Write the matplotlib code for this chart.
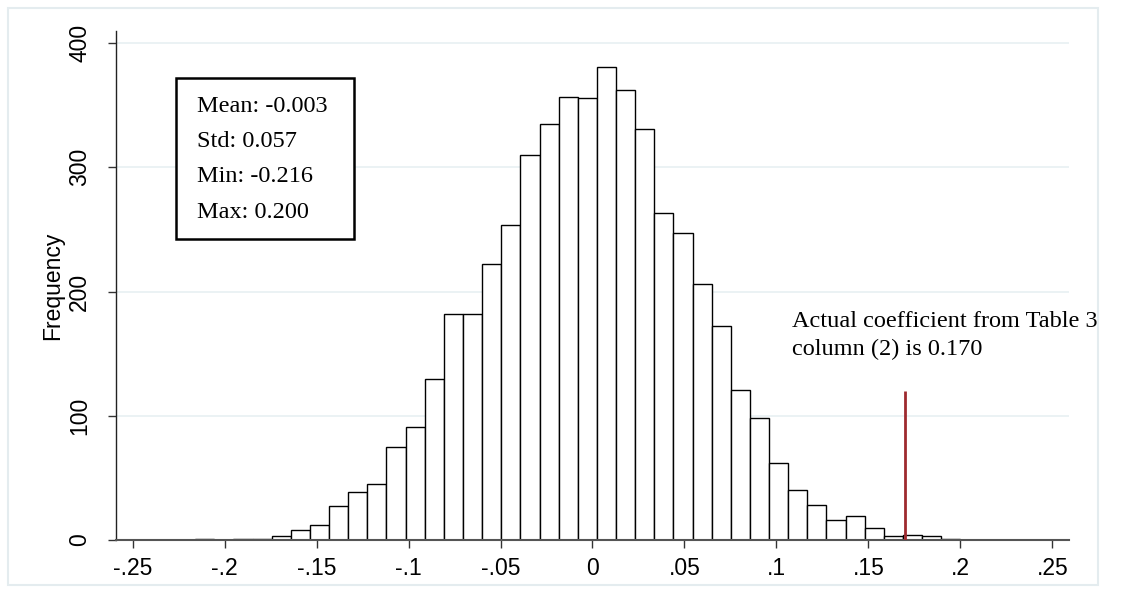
import numpy as np
import matplotlib.pyplot as plt
from matplotlib.patches import Rectangle

# histogram of placebo coefficients (40 bins between min and max)
bin_min = -0.216
bin_max = 0.200
counts = [1, 0, 1, 1, 3, 8, 12, 27, 39, 45,
          75, 91, 130, 182, 182, 222, 254, 310, 335, 357,
          356, 381, 362, 331, 263, 247, 206, 172, 121, 98,
          62, 40, 28, 16, 19, 10, 3, 4, 3, 1]
actual_coef = 0.170
actual_line_top = 120
stats_lines = ["Mean: -0.003", "Std: 0.057", "Min: -0.216", "Max: 0.200"]
note_lines = ["Actual coefficient from Table 3", "column (2) is 0.170"]
xticks = [-0.25, -0.2, -0.15, -0.1, -0.05, 0, 0.05, 0.1, 0.15, 0.2, 0.25]
xticklabels = ["-.25", "-.2", "-.15", "-.1", "-.05", "0", ".05", ".1", ".15", ".2", ".25"]
yticks = [0, 100, 200, 300, 400]

edges = np.linspace(bin_min, bin_max, len(counts) + 1)
width = edges[1] - edges[0]

fig = plt.figure(figsize=(11.32, 5.92), dpi=100)
ax = fig.add_axes([0.1025, 0.0878, 0.8418, 0.8603])

# outer light frame (stata graph region)
fig.add_artist(Rectangle((8 / 1132, 1 - 585 / 592), 1090 / 1132, 577 / 592,
                         transform=fig.transFigure, fill=False,
                         edgecolor="#e4ecef", lw=1.5))

ax.set_xlim(-0.259, 0.259)
ax.set_ylim(0, 410)
for y in yticks[1:]:
    ax.axhline(y, color="#e8f0f2", lw=1.2, zorder=0)

ax.bar(edges[:-1], counts, width=width, align="edge", color="white",
       edgecolor="black", lw=1.0, zorder=2)

ax.vlines(actual_coef, 0, actual_line_top, color="#9e2a2f", lw=2, zorder=3)

serif = ["Liberation Serif", "DejaVu Serif"]
ax.text(0.1082, 171.5, note_lines[0], family=serif, fontsize=17.5, va="baseline", zorder=4)
ax.text(0.1082, 149.0, note_lines[1], family=serif, fontsize=17.5, va="baseline", zorder=4)

ax.add_patch(Rectangle((-0.2265, 242), 0.0968, 130, facecolor="white",
                       edgecolor="black", lw=1.8, zorder=4))
for i, s in enumerate(stats_lines):
    ax.text(-0.2152, 344.5 - i * 28.3, s, family=serif, fontsize=17.5,
            va="baseline", zorder=5)

for s in ["top", "right"]:
    ax.spines[s].set_visible(False)
ax.spines["left"].set_color("#222222")
ax.spines["bottom"].set_color("#555555")
ax.spines["left"].set_linewidth(1.0)
ax.spines["bottom"].set_linewidth(1.5)

sans = "Liberation Sans"
ax.set_xticks(xticks)
ax.set_xticklabels(xticklabels, family=sans, fontsize=16.5)
ax.set_yticks(yticks)
ax.set_yticklabels([str(v) for v in yticks], family=sans, fontsize=16.5,
                   rotation=90, va="center")
ax.tick_params(axis="both", length=6, width=1, color="#333333")
ax.tick_params(axis="x", pad=6)
ax.tick_params(axis="y", pad=12)
ax.set_ylabel("Frequency", family=sans, fontsize=16.5, labelpad=3)

fig.savefig("out.png", dpi=100)
